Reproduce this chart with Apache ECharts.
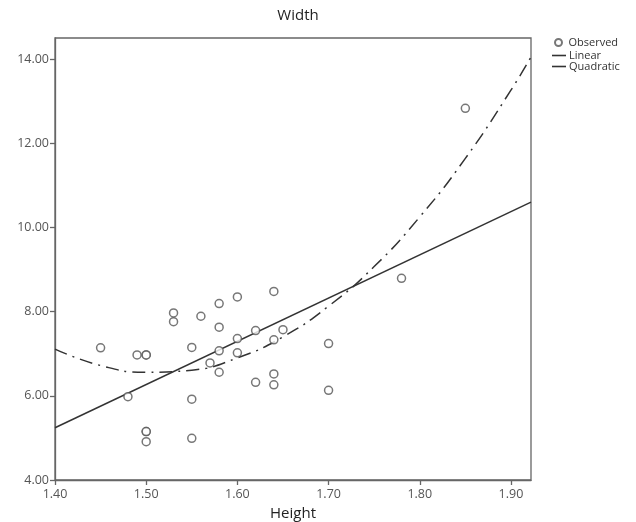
<!DOCTYPE html>
<html>
<head>
<meta charset="utf-8">
<script src="https://cdn.jsdelivr.net/npm/echarts@6/dist/echarts.min.js"></script>
<style>
html,body{margin:0;padding:0;background:#fff;}
#main{width:636px;height:522px;}
</style>
</head>
<body>
<div id="main"></div>
<script>
// Observed points (Height, Width)
const observedHeight = [1.45,1.49,1.50,1.50,1.53,1.53,1.56,1.55,1.58,1.58,1.58,1.57,1.48,1.50,1.50,1.50,1.55,1.55,1.58,1.60,1.64,1.60,1.62,1.65,1.64,1.70,1.60,1.62,1.64,1.64,1.70,1.78,1.85];
const observedWidth  = [7.14,6.97,6.97,6.97,7.97,7.76,7.89,7.15,8.19,7.63,7.07,6.78,5.98,5.15,5.15,4.91,5.92,4.99,6.56,8.35,8.48,7.36,7.55,7.57,7.33,7.24,7.02,6.32,6.52,6.26,6.13,8.79,12.83];
// Linear fit line (read endpoints)
const linearHeight = [1.40, 1.922];
const linearWidth  = [5.24, 10.60];
// Quadratic fit curve (read points)
const quadHeight = [1.40,1.45,1.50,1.55,1.60,1.65,1.70,1.75,1.80,1.85,1.90,1.922];
const quadWidth  = [7.11,6.72,6.56,6.61,6.90,7.40,8.13,9.07,10.25,11.64,13.26,14.05];
// Tick labels
const xTicks = [1.40,1.50,1.60,1.70,1.80,1.90];
const yTicks = [4,6,8,10,12,14];

const zip = (a,b) => a.map((v,i) => [v, b[i]]);
const font = 'Open Sans';
const labelStyle = {fontFamily: font, fontSize: 12.5, color: '#555'};
const chart = echarts.init(document.getElementById('main'));
chart.setOption({
  backgroundColor: '#fff',
  animation: false,
  title: {
    text: 'Width', left: 293, top: 3, textAlign: 'center',
    textStyle: {fontFamily: font, fontSize: 15, fontWeight: 'normal', color: '#222'}
  },
  legend: [
    {
      orient: 'vertical', left: 554, top: 37, padding: 0,
      itemWidth: 10, itemHeight: 7, icon: 'circle',
      textStyle: {fontFamily: font, fontSize: 11, color: '#333', lineHeight: 11, padding: [0,0,0,0]},
      data: ['Observed']
    },
    {
      orient: 'vertical', left: 552, top: 50, padding: 0, itemGap: 0,
      itemWidth: 14, itemHeight: 1.6, icon: 'rect',
      textStyle: {fontFamily: font, fontSize: 11, color: '#333', lineHeight: 11, padding: [0,0,0,-2]},
      data: ['Linear', 'Quadratic']
    }
  ],
  grid: {left: 55, right: 105, top: 38, bottom: 42, show: true, borderColor: '#666', borderWidth: 1.3,
    containLabel: false, outerBoundsMode: 'none'},
  xAxis: {
    type: 'value', min: 1.40, max: 1.922, interval: 0.1,
    name: 'Height', nameLocation: 'middle', nameGap: 26,
    nameTextStyle: {fontFamily: font, fontSize: 15, color: '#222'},
    axisLine: {show: true, lineStyle: {color: '#666', width: 1.3}},
    axisTick: {show: true, inside: false, length: 5, lineStyle: {color: '#666', width: 1.3}, customValues: xTicks},
    axisLabel: Object.assign({margin: 8, customValues: xTicks, formatter: v => v.toFixed(2)}, labelStyle),
    splitLine: {show: false}
  },
  yAxis: {
    type: 'value', min: 4, max: 14.5, interval: 2,
    axisLine: {show: true, lineStyle: {color: '#666', width: 1.3}},
    axisTick: {show: true, inside: false, length: 5, lineStyle: {color: '#666', width: 1.3}, customValues: yTicks},
    axisLabel: Object.assign({margin: 6, customValues: yTicks, formatter: v => v.toFixed(2)}, labelStyle),
    splitLine: {show: false}
  },
  series: [
    {
      name: 'Observed', type: 'scatter', symbol: 'circle', symbolSize: 8,
      data: zip(observedHeight, observedWidth),
      itemStyle: {color: '#fff', borderColor: '#555', borderWidth: 1.5},
      z: 3
    },
    {
      name: 'Linear', type: 'line', symbol: 'none', data: zip(linearHeight, linearWidth),
      lineStyle: {color: '#333', width: 1.5},
      itemStyle: {color: '#333'}
    },
    {
      name: 'Quadratic', type: 'line', symbol: 'none', smooth: true,
      data: zip(quadHeight, quadWidth),
      lineStyle: {color: '#333', width: 1.5, type: [13, 6, 2, 6]},
      itemStyle: {color: '#333'}
    }
  ]
});
</script>
</body>
</html>
